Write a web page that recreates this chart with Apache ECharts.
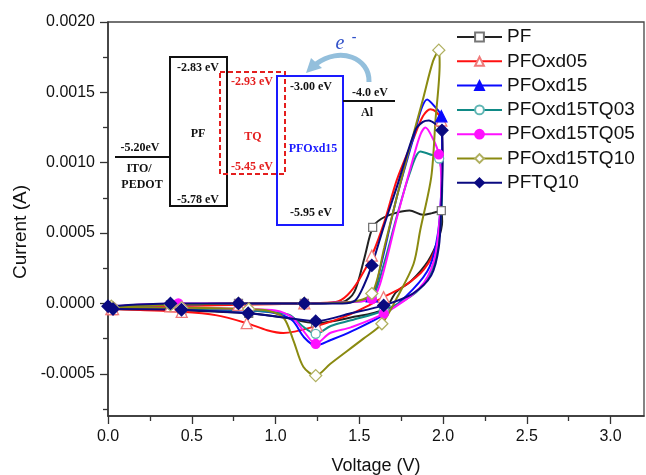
<!DOCTYPE html>
<html>
<head>
<meta charset="utf-8">
<script src="https://cdn.jsdelivr.net/npm/echarts@6/dist/echarts.min.js"></script>
<style>
  html, body { margin: 0; padding: 0; background: #fff; }
  #chart { width: 646px; height: 475px; }
</style>
</head>
<body>
<div id="chart"></div>
<script>
// [voltage (V), current (A)] along the sweep, forward then back
var pfCurve = [[0.02,-0.00003],[0.373,-0.00001],[0.779,0],[1.172,0],[1.40,0.00001],[1.47,0.00008],[1.53,0.00032],[1.58,0.00054],[1.63,0.0006],[1.71,0.00064],[1.80,0.00066],[1.88,0.00063],[1.93,0.00064],[1.99,0.00066],[1.995,0.00058],[1.97,0.00045],[1.91,0.0003],[1.81,0.00016],[1.72,0.00008],[1.65,-0.00004],[1.45,-0.0001],[1.24,-0.00014],[1.05,-0.0001],[0.84,-0.00007],[0.44,-0.00005],[0.03,-0.00004]];
var pfMarks = [0,1,2,3,7,13,19,21,23,24,25];

var xd05Curve = [[0.02,-0.00004],[0.373,-0.00002],[0.779,-0.00001],[1.172,0],[1.36,0.00001],[1.43,0.00006],[1.50,0.00017],[1.575,0.00034],[1.65,0.00058],[1.725,0.00088],[1.82,0.00116],[1.88,0.00133],[1.925,0.00138],[1.96,0.00136],[1.99,0.0013],[1.995,0.0011],[1.99,0.00076],[1.965,0.00043],[1.885,0.00024],[1.765,0.00012],[1.645,0.000045],[1.53,-0.00003],[1.42,-0.00009],[1.246,-0.00016],[1.047,-0.00021],[0.95,-0.00019],[0.828,-0.00014],[0.65,-0.000085],[0.44,-0.00006],[0.03,-0.00004]];
var xd05Marks = [0,1,2,3,7,14,20,23,26,28,29];

var xd15Curve = [[0.02,-0.00002],[0.373,-0.00001],[0.779,0],[1.172,0],[1.45,0.00001],[1.575,0.00005],[1.625,0.00025],[1.725,0.00076],[1.824,0.00118],[1.87,0.00138],[1.905,0.00145],[1.95,0.0014],[1.99,0.00133],[1.995,0.0011],[1.99,0.0008],[1.97,0.0005],[1.92,0.00026],[1.82,0.0001],[1.646,-0.00008],[1.45,-0.0002],[1.33,-0.00026],[1.24,-0.0003],[1.17,-0.00024],[1.10,-0.00012],[1.0,-0.00007],[0.84,-0.00005],[0.44,-0.00004],[0.03,-0.00003]];
var xd15Marks = [5,12];

var tq03Curve = [[0.02,-0.00002],[0.373,-0.00001],[0.779,0],[1.172,0],[1.45,0.00001],[1.575,0.00004],[1.64,0.00025],[1.72,0.0006],[1.80,0.00092],[1.865,0.00108],[1.92,0.00106],[1.977,0.00103],[1.995,0.0008],[1.98,0.0005],[1.94,0.00025],[1.84,0.00008],[1.646,-0.00005],[1.45,-0.00012],[1.33,-0.00016],[1.24,-0.000216],[1.16,-0.00016],[1.08,-0.00008],[0.84,-0.00005],[0.44,-0.00004],[0.03,-0.00003]];
var tq03Marks = [0,1,2,3,5,11,16,19,22,23,24];

var tq05Curve = [[0.02,-0.00002],[0.42,0],[0.779,0],[1.172,0],[1.45,0.00001],[1.575,0.00003],[1.625,0.00014],[1.725,0.00061],[1.824,0.00104],[1.865,0.0012],[1.895,0.00125],[1.94,0.00117],[1.975,0.00106],[1.99,0.00088],[1.98,0.0006],[1.945,0.0003],[1.86,0.00011],[1.646,-0.000073],[1.45,-0.00017],[1.326,-0.00021],[1.24,-0.000287],[1.17,-0.0002],[1.10,-0.0001],[1.0,-0.00005],[0.84,-0.00004],[0.44,-0.00003],[0.03,-0.00003]];
var tq05Marks = [0,1,2,3,5,12,17,20,24,25,26];

var tq10Curve = [[0.02,-0.00002],[0.373,-0.00001],[0.779,0],[1.172,0],[1.45,0.00001],[1.575,0.00007],[1.65,0.0004],[1.725,0.00076],[1.80,0.0011],[1.88,0.00145],[1.94,0.00172],[1.975,0.0018],[1.98,0.0017],[1.955,0.0013],[1.93,0.0009],[1.864,0.00052],[1.824,0.00028],[1.725,0.00004],[1.635,-0.000145],[1.525,-0.00025],[1.326,-0.00043],[1.24,-0.000513],[1.166,-0.00045],[1.106,-0.00026],[1.047,-0.0001],[0.95,-0.00005],[0.84,-0.00004],[0.44,-0.00003],[0.03,-0.00003]];
var tq10Marks = [0,1,2,3,5,11,18,21,26,27,28];

var pftqCurve = [[0.0,-0.00002],[0.373,0],[0.779,0],[1.172,0],[1.40,0],[1.475,0.00002],[1.525,0.00012],[1.575,0.00027],[1.65,0.00056],[1.725,0.00083],[1.834,0.00123],[1.88,0.00129],[1.915,0.0013],[1.96,0.00127],[1.994,0.00123],[1.998,0.001],[1.99,0.0007],[1.975,0.0004],[1.93,0.0002],[1.82,0.00007],[1.646,-0.000014],[1.45,-0.00007],[1.24,-0.000126],[1.05,-0.0001],[0.837,-0.00007],[0.439,-0.000045],[0.03,-0.00004]];
var pftqMarks = [0,1,2,3,7,14,20,22,24,25,26];

var yTicks = [-0.0005, 0, 0.0005, 0.001, 0.0015, 0.002];
var yMinor = [-0.00075, -0.00025, 0.00025, 0.00075, 0.00125, 0.00175];
var xTicks = [0, 0.5, 1.0, 1.5, 2.0, 2.5, 3.0];
var xMinor = [0.25, 0.75, 1.25, 1.75, 2.25, 2.75];

var chart = echarts.init(document.getElementById('chart'));

function withMarks(curve, marks) {
  return curve.map(function (p, i) {
    return marks.indexOf(i) >= 0 ? p : { value: p, symbol: 'none' };
  });
}

function makeSeries(name, curve, marks, color, symbol, size, fill, border) {
  return {
    name: name,
    type: 'line',
    smooth: 0.3,
    showAllSymbol: true,
    symbol: symbol,
    symbolSize: size,
    data: withMarks(curve, marks),
    lineStyle: { color: color, width: 2 },
    itemStyle: { color: fill, borderColor: border, borderWidth: 1.3 },
    emphasis: { disabled: true }
  };
}

var sans = '"Liberation Sans", Arial, sans-serif';
var serif = '"Liberation Serif", "Times New Roman", serif';
function label(x, y, text, color, size, style) {
  return {
    type: 'text', x: x, y: y,
    style: {
      text: text, fill: color || '#111', align: 'center', verticalAlign: 'middle',
      font: (style || 'bold') + ' ' + (size || 12) + 'px ' + serif
    }
  };
}

var option = {
  animation: false,
  backgroundColor: '#fff',
  grid: { left: 108, right: 2, top: 22, bottom: 59, show: true, borderColor: '#444', borderWidth: 1.3, outerBoundsMode: 'none' },
  legend: {
    orient: 'vertical',
    left: 451, top: 22,
    itemWidth: 45, itemHeight: 11, itemGap: 4.3,
    textStyle: { fontFamily: sans, fontSize: 19, color: '#111', lineHeight: 20 },
    data: ['PF', 'PFOxd05', 'PFOxd15', 'PFOxd15TQ03', 'PFOxd15TQ05', 'PFOxd15TQ10', 'PFTQ10']
  },
  xAxis: [{
    type: 'value', min: 0, max: 3.2,
    name: 'Voltage (V)', nameLocation: 'middle', nameGap: 41,
    nameTextStyle: { fontFamily: sans, fontSize: 18, color: '#111' },
    axisLine: { onZero: false, lineStyle: { color: '#333', width: 1.5 } },
    axisTick: { customValues: xTicks, length: 8, lineStyle: { color: '#333', width: 1.3 } },
    axisLabel: { customValues: xTicks, margin: 13, fontFamily: sans, fontSize: 16, color: '#111',
      formatter: function (v) { return v.toFixed(1); } },
    splitLine: { show: false }
  }, {
    type: 'value', min: 0, max: 3.2, position: 'bottom',
    axisLine: { show: false, onZero: false },
    axisTick: { customValues: xMinor, length: 5, lineStyle: { color: '#333', width: 1.3 } },
    axisLabel: { show: false },
    splitLine: { show: false }
  }],
  yAxis: [{
    type: 'value', min: -0.0008, max: 0.002,
    name: 'Current (A)', nameLocation: 'middle', nameGap: 68, nameRotate: 90,
    nameTextStyle: { fontFamily: sans, fontSize: 19, color: '#111', padding: [0, 26, 0, 0] },
    axisLine: { onZero: false, lineStyle: { color: '#333', width: 1.5 } },
    axisTick: { customValues: yTicks, length: 8, lineStyle: { color: '#333', width: 1.3 } },
    axisLabel: { customValues: yTicks, margin: 13, fontFamily: sans, fontSize: 16, color: '#111',
      formatter: function (v) { return v.toFixed(4); } },
    splitLine: { show: false }
  }, {
    type: 'value', min: -0.0008, max: 0.002, position: 'left',
    axisLine: { show: false, onZero: false },
    axisTick: { customValues: yMinor, length: 5, lineStyle: { color: '#333', width: 1.3 } },
    axisLabel: { show: false },
    splitLine: { show: false }
  }],
  series: [
    makeSeries('PF', pfCurve, pfMarks, '#222222', 'rect', 8, '#ffffff', '#777777'),
    makeSeries('PFOxd05', xd05Curve, xd05Marks, '#ff1010', 'triangle', 11, '#ffffff', '#f07a7a'),
    makeSeries('PFOxd15', xd15Curve, xd15Marks, '#0a0aff', 'triangle', 11, '#0a0aff', '#0a0aff'),
    makeSeries('PFOxd15TQ03', tq03Curve, tq03Marks, '#0f8a86', 'circle', 9, '#ffffff', '#5fb6b4'),
    makeSeries('PFOxd15TQ05', tq05Curve, tq05Marks, '#ff10ff', 'circle', 9, '#ff10ff', '#ff10ff'),
    makeSeries('PFOxd15TQ10', tq10Curve, tq10Marks, '#8a8a10', 'diamond', 12, '#ffffff', '#b0b060'),
    makeSeries('PFTQ10', pftqCurve, pftqMarks, '#0a0a80', 'diamond', 12, '#0a0a80', '#0a0a80')
  ],
  // energy level inset
  graphic: [
    { type: 'line', shape: { x1: 115, y1: 157, x2: 170, y2: 157 }, style: { stroke: '#111', lineWidth: 2 } },
    label(140, 148, '-5.20eV'),
    label(139, 169, 'ITO/'),
    label(142, 185, 'PEDOT'),
    { type: 'rect', shape: { x: 170, y: 57, width: 57, height: 149 }, style: { fill: 'none', stroke: '#111', lineWidth: 2 } },
    label(198, 68, '-2.83 eV'),
    label(198, 134, 'PF'),
    label(198, 200, '-5.78 eV'),
    { type: 'rect', shape: { x: 220, y: 72, width: 65, height: 102 }, style: { fill: 'none', stroke: '#e41e1e', lineWidth: 2, lineDash: [5, 3] } },
    label(252, 82, '-2.93 eV', '#e41e1e'),
    label(253, 137, 'TQ', '#e41e1e'),
    label(252, 167, '-5.45 eV', '#e41e1e'),
    { type: 'rect', shape: { x: 277, y: 76, width: 66, height: 149 }, style: { fill: 'none', stroke: '#1a1aff', lineWidth: 2 } },
    label(311, 87, '-3.00 eV'),
    label(313, 149, 'PFOxd15', '#1a1aff'),
    label(311, 213, '-5.95 eV'),
    { type: 'line', shape: { x1: 343, y1: 101, x2: 395, y2: 101 }, style: { stroke: '#111', lineWidth: 2 } },
    label(370, 93, '-4.0 eV'),
    label(367, 113, 'Al'),
    { type: 'bezierCurve', shape: { x1: 369, y1: 82, cpx1: 370, cpy1: 58, cpx2: 340, cpy2: 46, x2: 316, y2: 64 },
      style: { fill: 'none', stroke: '#93bfdc', lineWidth: 5 } },
    { type: 'polygon', shape: { points: [[306, 73], [311, 58], [322, 68]] }, style: { fill: '#93bfdc' } },
    label(340, 44, 'e', '#3050c8', 20, 'italic'),
    label(354, 37, '-', '#3050c8', 14, 'bold')
  ]
};

chart.setOption(option);
</script>
</body>
</html>
